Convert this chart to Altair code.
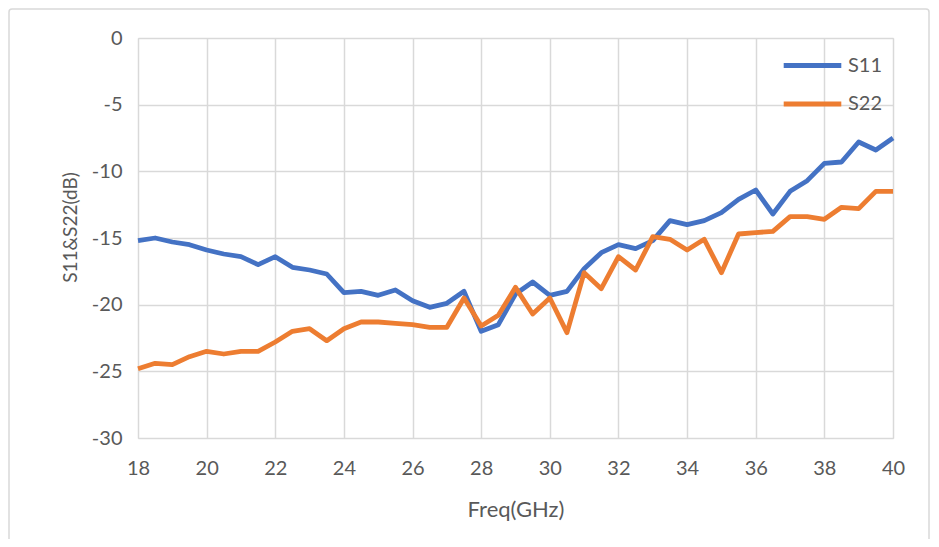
import altair as alt
import pandas as pd

freq = [18 + 0.5 * i for i in range(45)]
s11 = [-15.2, -15.0, -15.3, -15.5, -15.9, -16.2, -16.4, -17.0, -16.4, -17.2,
       -17.4, -17.7, -19.1, -19.0, -19.3, -18.9, -19.7, -20.2, -19.9, -19.0,
       -22.0, -21.5, -19.2, -18.3, -19.3, -19.0, -17.3, -16.1, -15.5, -15.8,
       -15.2, -13.7, -14.0, -13.7, -13.1, -12.1, -11.4, -13.2, -11.5, -10.7,
       -9.4, -9.3, -7.8, -8.4, -7.5]
s22 = [-24.8, -24.4, -24.5, -23.9, -23.5, -23.7, -23.5, -23.5, -22.8, -22.0,
       -21.8, -22.7, -21.8, -21.3, -21.3, -21.4, -21.5, -21.7, -21.7, -19.5,
       -21.6, -20.8, -18.7, -20.7, -19.5, -22.1, -17.6, -18.8, -16.4, -17.4,
       -14.9, -15.1, -15.9, -15.1, -17.6, -14.7, -14.6, -14.5, -13.4, -13.4,
       -13.6, -12.7, -12.8, -11.5, -11.5]
series = ["S11", "S22"]
colors = ["#4472C4", "#ED7D31"]
x_ticks = list(range(18, 41, 2))
y_ticks = list(range(-30, 1, 5))

df = pd.DataFrame({
    "freq": freq * 2,
    "val": s11 + s22,
    "series": ["S11"] * len(freq) + ["S22"] * len(freq),
})

FONT = "Lato"
GRAY = "#595959"

lines = alt.Chart(df).mark_line(strokeWidth=4.8, strokeJoin="round").encode(
    x=alt.X("freq:Q", scale=alt.Scale(domain=[18, 40], nice=False),
            axis=alt.Axis(values=x_ticks, title="Freq(GHz)", ticks=False, domain=False,
                          labelFlush=False, labelExpr="toString(datum.value)",
                          labelFontSize=20, labelColor=GRAY, labelPadding=20,
                          titleFontSize=22, titleColor=GRAY, titleFontWeight="normal",
                          titlePadding=21, gridColor="#d9d9d9", gridWidth=1.5)),
    y=alt.Y("val:Q", scale=alt.Scale(domain=[-30, 0], nice=False),
            axis=alt.Axis(values=y_ticks, title="S11&S22(dB)", ticks=False, domain=False,
                          labelExpr="toString(datum.value)",
                          labelFontSize=20, labelColor=GRAY, labelPadding=16,
                          titleFontSize=19, titleColor=GRAY, titleFontWeight="normal",
                          titlePadding=11, titleY=189, gridColor="#d9d9d9", gridWidth=1.5)),
    color=alt.Color("series:N", scale=alt.Scale(domain=series, range=colors),
                    legend=alt.Legend(title=None, orient="none", legendX=654, legendY=7,
                                      symbolType="M-1.6,0L1.6,0", symbolSize=1296,
                                      symbolStrokeWidth=5, labelOffset=15,
                                      labelFontSize=20, labelColor=GRAY, rowPadding=7.5)),
)

border = alt.Chart(pd.DataFrame({"a": [0]})).mark_rect(
    fill=None, stroke="#d9d9d9", strokeWidth=1.5, cornerRadius=3
).encode(x=alt.value(-129), x2=alt.value(791), y=alt.value(-29), y2=alt.value(520))

chart = alt.layer(border, lines).properties(
    width=755, height=400,
    autosize=alt.AutoSizeParams(type="none"),
    padding={"left": 130, "top": 30, "right": 38, "bottom": 101},
).configure_view(stroke=None).configure(font=FONT)

chart.save("out.html", embed_options={"renderer": "svg", "actions": False})
